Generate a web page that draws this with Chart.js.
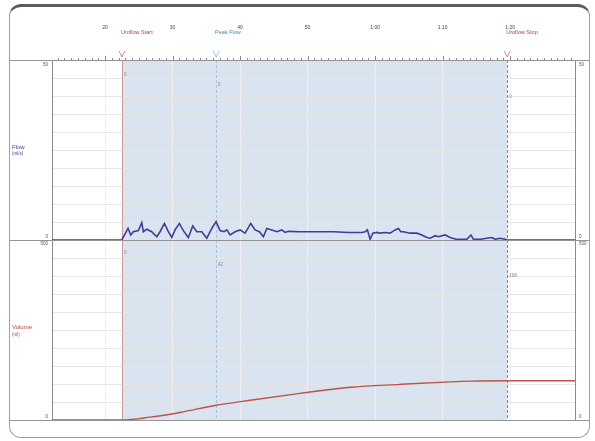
<!DOCTYPE html>
<html>
<head>
<meta charset="utf-8">
<script src="https://cdn.jsdelivr.net/npm/chart.js@4.4.0/dist/chart.umd.min.js"></script>
<style>
html, body { margin: 0; padding: 0; background: #fff; }
#wrap { position: relative; width: 595px; height: 441px; }
#frame { position: absolute; left: 9px; top: 4px; width: 581px; height: 434px; box-sizing: border-box;
         border: 1px solid #a0a0a0; border-top: 3px solid #5c5c5c; border-radius: 12px; }
canvas { position: absolute; left: 0; top: 0; }
</style>
</head>
<body>
<div id="wrap"><div id="frame"></div><canvas id="uroChart" width="595" height="441"></canvas></div>
<script>
// time axis (seconds)
const timeMin = 12.15;
const timeMax = 89.6;
const timeTicks = [20, 30, 40, 50, 60, 70, 80];
const timeTickLabels = ['20', '30', '40', '50', '1:00', '1:10', '1:20'];

const flowMax = 50;     // ml/s
const volumeMax = 500;  // ml

// flow curve
const flowTimes = [12.15, 22.48, 23.41, 23.81, 24.19, 24.94, 25.44, 25.68, 26.18, 26.92,
    27.66, 28.15, 28.79, 29.38, 29.88, 30.37, 31.01, 31.6, 32.34, 32.99,
    33.59, 34.33, 35.07, 35.81, 36.45, 37.04, 37.63, 38.03, 38.52, 39.26,
    40.0, 40.74, 41.59, 42.22, 42.86, 43.45, 43.96, 44.7, 45.44, 46.18,
    46.67, 47.16, 48.89, 51.36, 53.82, 56.05, 58.03, 58.52, 58.86, 59.26,
    59.66, 60.25, 60.74, 61.48, 62.22, 62.96, 63.45, 63.81, 64.19, 65.19,
    66.18, 66.92, 67.66, 68.15, 68.89, 69.38, 70.37, 71.11, 72.0, 73.59,
    74.18, 74.56, 75.56, 76.55, 77.29, 77.78, 78.52, 79.26, 79.56, 89.6];
const flowValues = [0, 0, 3.25, 1.4, 2.3, 2.6, 4.8, 2.3, 3.0, 2.3,
    0.9, 2.3, 4.6, 2.3, 0.7, 2.8, 4.6, 2.6, 0.7, 3.9,
    2.3, 2.3, 0.5, 3.2, 5.1, 2.6, 2.3, 2.8, 1.4, 2.3,
    2.8, 1.9, 4.6, 2.8, 2.3, 0.9, 3.2, 2.8, 2.3, 2.8,
    2.1, 2.4, 2.3, 2.3, 2.3, 2.1, 2.1, 2.3, 2.8, 0.2,
    1.9, 2.1, 1.9, 2.1, 1.9, 2.8, 3.2, 2.3, 2.3, 1.9,
    1.9, 1.4, 0.7, 0.5, 1.2, 0.9, 1.4, 0.7, 0.2, 0.2,
    1.4, 0.2, 0.2, 0.5, 0.7, 0.2, 0.5, 0.2, 0, 0];

// voided volume curve
const volumeTimes = [12.15, 22.5, 26.67, 31.11, 36.45, 41.48, 48.89, 56.3, 63.7, 71.1, 74.1, 79.56, 89.6];
const volumeValues = [0, 0, 8, 21, 41, 55, 74, 91, 99, 106, 108, 109, 109];

// event markers
const markerNames = ['Uroflow Start', 'Peak Flow', 'Uroflow Stop'];
const markerTimes = [22.5, 36.45, 79.56];
const markerFlowText = ['0', '5', '0'];
const markerVolumeText = ['0', '42', '108'];

const markerColors = ['#b8403f', '#3f8fa6', '#b8403f'];
const FONT = '"Liberation Sans", Arial, sans-serif';

const uroDecor = {
    id: 'uroDecor',
    beforeDraw(chart) {
        const {ctx, chartArea, scales} = chart;
        const x0 = scales.x.getPixelForValue(markerTimes[0]);
        const x1 = scales.x.getPixelForValue(markerTimes[2]);
        ctx.save();
        ctx.fillStyle = '#dae3f0';
        ctx.fillRect(x0, chartArea.top, x1 - x0, chartArea.bottom - chartArea.top);
        ctx.restore();
    },
    beforeDatasetsDraw(chart) {
        const {ctx, chartArea, scales} = chart;
        const styles = [
            {color: '#d09a9a', dash: []},
            {color: '#9cc6dc', dash: [3, 2]},
            {color: '#8c7d92', dash: [3, 2]}
        ];
        ctx.save();
        ctx.lineWidth = 1;
        markerTimes.forEach((t, i) => {
            const x = Math.round(scales.x.getPixelForValue(t)) + 0.5;
            ctx.strokeStyle = styles[i].color;
            ctx.setLineDash(styles[i].dash);
            ctx.beginPath();
            ctx.moveTo(x, chartArea.top);
            ctx.lineTo(x, chartArea.bottom);
            ctx.stroke();
        });
        ctx.restore();
    },
    afterDraw(chart) {
        const {ctx, chartArea, scales} = chart;
        const xs = scales.x, yf = scales.y, yv = scales.yv;
        ctx.save();

        // frame rules across the whole box
        ctx.strokeStyle = '#949494';
        ctx.lineWidth = 1;
        [chartArea.top, yf.bottom, yv.bottom].forEach(y => {
            const yy = Math.round(y) + 0.5;
            ctx.beginPath();
            ctx.moveTo(10, yy);
            ctx.lineTo(589, yy);
            ctx.stroke();
        });

        // second ticks on the time rule
        ctx.strokeStyle = '#8a8a8a';
        for (let s = Math.ceil(timeMin); s <= Math.floor(timeMax); s++) {
            const x = Math.round(xs.getPixelForValue(s)) + 0.5;
            const len = s % 10 === 0 ? 4 : 2;
            ctx.beginPath();
            ctx.moveTo(x, chartArea.top);
            ctx.lineTo(x, chartArea.top - len);
            ctx.stroke();
        }

        // marker chevrons and names
        markerTimes.forEach((t, i) => {
            const x = xs.getPixelForValue(t);
            ctx.strokeStyle = i === 1 ? '#9cc6dc' : '#d08c8c';
            ctx.beginPath();
            ctx.moveTo(x - 3, chartArea.top - 9);
            ctx.lineTo(x, chartArea.top - 3);
            ctx.lineTo(x + 3, chartArea.top - 9);
            ctx.stroke();
            ctx.fillStyle = markerColors[i];
            ctx.font = '5.5px ' + FONT;
            ctx.textAlign = 'left';
            ctx.textBaseline = 'middle';
            ctx.fillText(markerNames[i], x - 1, 32);
        });

        // values at the markers
        ctx.fillStyle = '#8a8a8a';
        ctx.font = '4.5px ' + FONT;
        const flowOff = [15, 25, 37];
        const volOff = [13, 25, 36];
        markerTimes.forEach((t, i) => {
            const x = xs.getPixelForValue(t) + 2;
            ctx.fillText(markerFlowText[i], x, yf.top + flowOff[i]);
            ctx.fillText(markerVolumeText[i], x, yv.top + volOff[i]);
        });

        // scale end labels, both sides
        ctx.fillStyle = '#555';
        ctx.font = '4.5px ' + FONT;
        const ends = [
            [String(flowMax), yf.top + 5], ['0', yf.bottom - 3],
            [String(volumeMax), yv.top + 4], ['0', yv.bottom - 3]
        ];
        ends.forEach(([txt, y]) => {
            ctx.textAlign = 'right';
            ctx.fillText(txt, chartArea.left - 4, y);
            ctx.textAlign = 'left';
            ctx.fillText(txt, chartArea.right + 4, y);
        });

        // axis titles
        ctx.textAlign = 'left';
        ctx.font = '6px ' + FONT;
        ctx.fillStyle = '#3b3f98';
        ctx.fillText('Flow', 12, (yf.top + yf.bottom) / 2 - 3);
        ctx.font = '4.5px ' + FONT;
        ctx.fillText('(ml/s)', 12, (yf.top + yf.bottom) / 2 + 4);
        ctx.font = '6px ' + FONT;
        ctx.fillStyle = '#b8403f';
        ctx.fillText('Volume', 12, (yv.top + yv.bottom) / 2 - 3);
        ctx.font = '4.5px ' + FONT;
        ctx.fillText('(ml)', 12, (yv.top + yv.bottom) / 2 + 5);
        ctx.restore();
    }
};

function zeroWidth(scale) { scale.width = 0; }

const flowPoints = flowTimes.map((t, i) => ({x: t, y: flowValues[i]}));
const volumePoints = volumeTimes.map((t, i) => ({x: t, y: volumeValues[i]}));

new Chart(document.getElementById('uroChart'), {
    type: 'line',
    data: {
        datasets: [{
            label: 'Flow',
            data: flowPoints,
            yAxisID: 'y',
            borderColor: '#3d4096',
            borderWidth: 1.6,
            pointRadius: 0,
            tension: 0
        }, {
            label: 'Volume',
            data: volumePoints,
            yAxisID: 'yv',
            borderColor: '#c0504d',
            borderWidth: 1.4,
            pointRadius: 0,
            cubicInterpolationMode: 'monotone'
        }]
    },
    options: {
        responsive: false,
        animation: false,
        layout: { padding: { top: 5, left: 52, right: 20, bottom: 21 } },
        plugins: { legend: { display: false }, tooltip: { enabled: false } },
        scales: {
            x: {
                type: 'linear',
                position: 'top',
                min: timeMin,
                max: timeMax,
                afterBuildTicks: scale => { scale.ticks = timeTicks.map(v => ({value: v})); },
                afterFit: scale => { scale.height = 55; },
                ticks: {
                    callback: (v, i) => timeTickLabels[i],
                    font: { size: 5, family: FONT },
                    color: '#444',
                    padding: 29,
                    maxRotation: 0
                },
                grid: { color: '#f0f0f0', drawTicks: false },
                border: { display: false }
            },
            // in a stack the axis declared last sits on top
            yv: {
                position: 'left',
                stack: 'left',
                stackWeight: 1,
                min: 0,
                max: volumeMax,
                ticks: { display: false, stepSize: 50 },
                grid: { color: '#e6e6e6', drawTicks: false },
                border: { color: '#8a8a8a' },
                afterFit: zeroWidth
            },
            y: {
                position: 'left',
                stack: 'left',
                stackWeight: 1,
                min: 0,
                max: flowMax,
                ticks: { display: false, stepSize: 5 },
                grid: { color: '#e6e6e6', drawTicks: false },
                border: { color: '#8a8a8a' },
                afterFit: zeroWidth
            },
            yvr: {
                position: 'right',
                stack: 'right',
                min: 0,
                max: volumeMax,
                ticks: { display: false },
                grid: { display: false },
                border: { color: '#8a8a8a' },
                afterFit: zeroWidth
            },
            yr: {
                position: 'right',
                stack: 'right',
                min: 0,
                max: flowMax,
                ticks: { display: false },
                grid: { display: false },
                border: { color: '#8a8a8a' },
                afterFit: zeroWidth
            }
        }
    },
    plugins: [uroDecor]
});
</script>
</body>
</html>
